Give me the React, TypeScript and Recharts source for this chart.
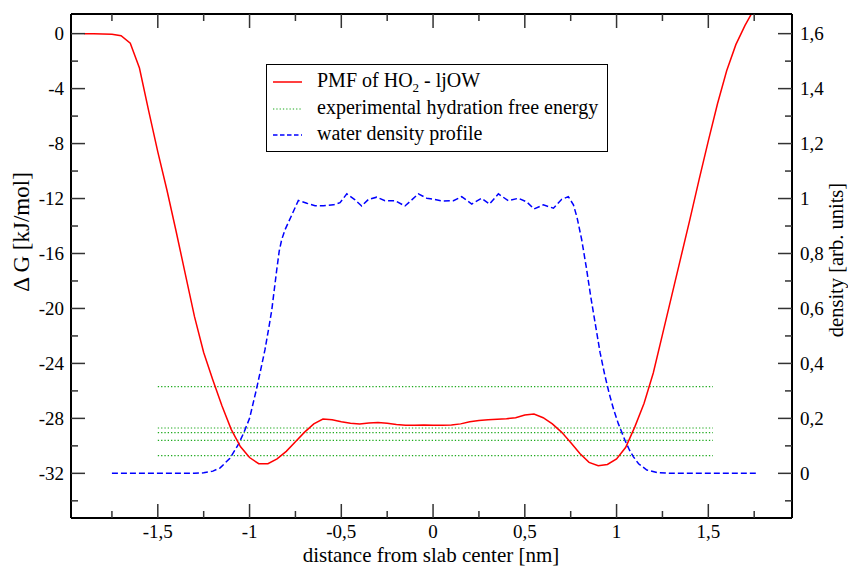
import { ComposedChart, Legend, Line, XAxis, YAxis } from "recharts";

// PMF of HO2 (kJ/mol) vs distance from slab center (nm)
const PMF_X = [
  -1.9, -1.85, -1.8, -1.75, -1.7, -1.65, -1.6, -1.55, -1.5, -1.45, -1.4, -1.35, -1.3, -1.25,
  -1.2, -1.15, -1.1, -1.05, -1.0, -0.95, -0.9, -0.85, -0.8, -0.75, -0.7, -0.65, -0.6, -0.55,
  -0.5, -0.45, -0.4, -0.35, -0.3, -0.25, -0.2, -0.15, -0.1, -0.05, 0, 0.05, 0.1, 0.15, 0.2,
  0.25, 0.3, 0.35, 0.4, 0.45, 0.5, 0.55, 0.6, 0.65, 0.7, 0.75, 0.8, 0.85, 0.9, 0.95, 1.0,
  1.05, 1.1, 1.15, 1.2, 1.25, 1.3, 1.35, 1.4, 1.45, 1.5, 1.55, 1.6, 1.65, 1.7, 1.75,
];
const PMF_G = [
  0.0, 0.0, -0.02, -0.05, -0.15, -0.7, -2.5, -5.6, -8.6, -11.4, -14.4, -17.5, -20.6, -23.2,
  -25.2, -27.1, -28.8, -30.05, -30.85, -31.3, -31.3, -30.95, -30.4, -29.7, -29.0, -28.4,
  -28.05, -28.1, -28.25, -28.36, -28.4, -28.33, -28.3, -28.35, -28.45, -28.5, -28.5, -28.48,
  -28.5, -28.5, -28.48, -28.4, -28.25, -28.15, -28.1, -28.07, -28.03, -27.95, -27.75, -27.68,
  -27.95, -28.4, -29.0, -29.75, -30.55, -31.2, -31.45, -31.35, -30.95, -30.1, -28.6, -26.9,
  -24.7, -21.9, -19.1, -16.3, -13.5, -10.6, -7.8, -5.1, -2.7, -0.8, 0.6, 1.8,
];

// water density profile (arb. units)
const DENS_X = [
  -1.75, -1.3, -1.25, -1.2, -1.16, -1.107, -1.061, -1.03, -1.0, -0.961, -0.935, -0.916,
  -0.895, -0.879, -0.852, -0.838, -0.825, -0.807, -0.77, -0.734, -0.688, -0.643, -0.598,
  -0.543, -0.507, -0.47, -0.425, -0.389, -0.352, -0.307, -0.262, -0.207, -0.153, -0.116,
  -0.08, -0.034, 0.002, 0.047, 0.111, 0.156, 0.211, 0.265, 0.307, 0.356, 0.41, 0.465, 0.51,
  0.55, 0.601, 0.656, 0.701, 0.737, 0.765, 0.785, 0.81, 0.835, 0.86, 0.885, 0.91, 0.935,
  0.96, 0.985, 1.01, 1.046, 1.07, 1.092, 1.12, 1.165, 1.22, 1.3, 1.77,
];
const DENS_D = [
  0, 0, 0.002, 0.008, 0.02, 0.055, 0.105, 0.15, 0.2, 0.31, 0.39, 0.45, 0.53, 0.594, 0.74,
  0.81, 0.85, 0.886, 0.94, 0.993, 0.983, 0.974, 0.974, 0.977, 0.985, 1.017, 0.995, 0.973,
  0.997, 1.005, 0.992, 0.992, 0.973, 0.995, 1.017, 1.001, 0.998, 0.991, 0.992, 1.007, 0.98,
  1.001, 0.98, 1.017, 0.992, 1.001, 0.988, 0.962, 0.977, 0.965, 0.997, 1.007, 0.977, 0.93,
  0.85, 0.75, 0.64, 0.54, 0.44, 0.36, 0.29, 0.23, 0.18, 0.12, 0.085, 0.06, 0.035, 0.012,
  0.003, 0, 0,
];

// experimental hydration free energies (kJ/mol)
const EXP_LEVELS = [-25.69, -28.7, -29.04, -29.6, -30.71];
const EXP_X = [-1.5, 1.525];

const X_TICKS = [-1.75, -1.5, -1.25, -1, -0.75, -0.5, -0.25, 0, 0.25, 0.5, 0.75, 1, 1.25, 1.5, 1.75];
const X_MAJOR = [-1.5, -1, -0.5, 0, 0.5, 1, 1.5];
const G_TICKS = [0, -2, -4, -6, -8, -10, -12, -14, -16, -18, -20, -22, -24, -26, -28, -30, -32, -34];
const G_MAJOR = [0, -4, -8, -12, -16, -20, -24, -28, -32];
const D_TICKS = [-0.1, 0, 0.1, 0.2, 0.3, 0.4, 0.5, 0.6, 0.7, 0.8, 0.9, 1, 1.1, 1.2, 1.3, 1.4, 1.5, 1.6];
const D_MAJOR = [0, 0.2, 0.4, 0.6, 0.8, 1, 1.2, 1.4, 1.6];

const pmfData = PMF_X.map((x, i) => ({ x, y: PMF_G[i] }));
const densData = DENS_X.map((x, i) => ({ x, y: DENS_D[i] }));
const expData = EXP_LEVELS.map((g) => EXP_X.map((x) => ({ x, y: g })));

const FONT = '"Liberation Serif", "Times New Roman", serif';
const TICK_COLOR = "#333";
const TICK_FONT = 19;
const fmt = (v: number) => String(v).replace(".", ",");
const isMajor = (list: number[], v: number) => list.some((m) => Math.abs(m - v) < 1e-9);

function BottomTick(props: any) {
  const { x, y, payload } = props;
  const major = isMajor(X_MAJOR, payload.value);
  return (
    <g>
      <line x1={x} x2={x} y1={y} y2={y - (major ? 14 : 7)} stroke={TICK_COLOR} strokeWidth={1.5} />
      {major && (
        <text x={x} y={y + 20} textAnchor="middle" fontSize={TICK_FONT} fontFamily={FONT} fill="#000">
          {fmt(payload.value)}
        </text>
      )}
    </g>
  );
}

function TopTick(props: any) {
  const { x, y, payload } = props;
  const major = isMajor(X_MAJOR, payload.value);
  return <line x1={x} x2={x} y1={y} y2={y + (major ? 14 : 7)} stroke={TICK_COLOR} strokeWidth={1.5} />;
}

function LeftTick(props: any) {
  const { x, y, payload } = props;
  const major = isMajor(G_MAJOR, payload.value);
  return (
    <g>
      <line x1={x} x2={x + (major ? 14 : 7)} y1={y} y2={y} stroke={TICK_COLOR} strokeWidth={1.5} />
      {major && (
        <text x={x - 7} y={y} dy="0.35em" textAnchor="end" fontSize={TICK_FONT} fontFamily={FONT} fill="#000">
          {fmt(payload.value)}
        </text>
      )}
    </g>
  );
}

function RightTick(props: any) {
  const { x, y, payload } = props;
  const major = isMajor(D_MAJOR, payload.value);
  return (
    <g>
      <line x1={x} x2={x - (major ? 14 : 7)} y1={y} y2={y} stroke={TICK_COLOR} strokeWidth={1.5} />
      {major && (
        <text x={x + 8} y={y} dy="0.35em" textAnchor="start" fontSize={TICK_FONT} fontFamily={FONT} fill="#000">
          {fmt(payload.value)}
        </text>
      )}
    </g>
  );
}

function LegendBox() {
  const rowY = [17, 44, 70];
  return (
    <div style={{ width: 342, height: 88, border: "1.5px solid #000", boxSizing: "border-box", background: "#fff" }}>
      <svg width={340} height={86} style={{ display: "block" }}>
        <line x1={6} x2={35} y1={rowY[0]} y2={rowY[0]} stroke="#ff0000" strokeWidth={1.5} />
        <text x={50} y={rowY[0] + 5} fontSize={20} fontFamily={FONT}>
          PMF of HO<tspan fontSize={13} dy={5}>2</tspan>
          <tspan dy={-5}> - ljOW</tspan>
        </text>
        <line x1={6} x2={35} y1={rowY[1]} y2={rowY[1]} stroke="#1faa1f" strokeWidth={1.2} strokeDasharray="1.3 2" />
        <text x={50} y={rowY[1] + 5} fontSize={20} fontFamily={FONT}>
          experimental hydration free energy
        </text>
        <line x1={6} x2={35} y1={rowY[2]} y2={rowY[2]} stroke="#0000ff" strokeWidth={1.5} strokeDasharray="4.5 2.5" />
        <text x={50} y={rowY[2] + 5} fontSize={20} fontFamily={FONT}>
          water density profile
        </text>
      </svg>
    </div>
  );
}

export default function App() {
  return (
    <div style={{ position: "absolute", left: 0, top: 0, width: 848, height: 566, background: "#fff", overflow: "hidden" }}>
      <ComposedChart width={848} height={566} margin={{ top: 0, right: 0, bottom: 0, left: 0 }}>
        <XAxis
          xAxisId="bottom"
          type="number"
          dataKey="x"
          domain={[-1.973, 1.956]}
          allowDataOverflow
          ticks={X_TICKS}
          interval={0}
          height={48}
          tickSize={0}
          tickMargin={0}
          tick={<BottomTick />}
          axisLine={{ stroke: "#000", strokeWidth: 2 }}
        />
        <XAxis
          xAxisId="top"
          orientation="top"
          type="number"
          dataKey="x"
          domain={[-1.973, 1.956]}
          allowDataOverflow
          ticks={X_TICKS}
          interval={0}
          height={14}
          tickSize={0}
          tickMargin={0}
          tick={<TopTick />}
          axisLine={{ stroke: "#000", strokeWidth: 2 }}
        />
        <YAxis
          yAxisId="left"
          type="number"
          domain={[-35.25, 1.43]}
          allowDataOverflow
          ticks={G_TICKS}
          interval={0}
          width={71}
          tickSize={0}
          tickMargin={0}
          tick={<LeftTick />}
          axisLine={{ stroke: "#000", strokeWidth: 2 }}
        />
        <YAxis
          yAxisId="right"
          orientation="right"
          type="number"
          domain={[-0.1625, 1.6715]}
          allowDataOverflow
          ticks={D_TICKS}
          interval={0}
          width={56}
          tickSize={0}
          tickMargin={0}
          tick={<RightTick />}
          axisLine={{ stroke: "#000", strokeWidth: 2 }}
        />
        <Legend
          verticalAlign="middle"
          align="center"
          content={() => <LegendBox />}
          wrapperStyle={{ position: "absolute", left: 266, top: 64, width: 342, height: 88 }}
        />
        {expData.map((d, i) => (
          <Line
            key={`exp-${i}`}
            data={d}
            xAxisId="bottom"
            yAxisId="left"
            dataKey="y"
            stroke="#1faa1f"
            strokeWidth={1.2}
            strokeDasharray="1.3 2"
            dot={false}
            activeDot={false}
            legendType="none"
            isAnimationActive={false}
          />
        ))}
        <Line
          data={densData}
          xAxisId="bottom"
          yAxisId="right"
          dataKey="y"
          type="linear"
          stroke="#0000ff"
          strokeWidth={1.5}
          strokeDasharray="6 3"
          dot={false}
          activeDot={false}
          isAnimationActive={false}
        />
        <Line
          data={pmfData}
          xAxisId="bottom"
          yAxisId="left"
          dataKey="y"
          type="linear"
          stroke="#ff0000"
          strokeWidth={1.5}
          dot={false}
          activeDot={false}
          isAnimationActive={false}
        />
      </ComposedChart>
      <svg width={848} height={566} style={{ position: "absolute", left: 0, top: 0, pointerEvents: "none" }}>
        <text
          x={29}
          y={232}
          transform="rotate(-90 29 232)"
          textAnchor="middle"
          fontSize={23}
          fontFamily={FONT}
        >
          Δ G [kJ/mol]
        </text>
        <text
          x={843}
          y={260}
          transform="rotate(-90 843 260)"
          textAnchor="middle"
          fontSize={20.5}
          fontFamily={FONT}
        >
          density [arb. units]
        </text>
        <text x={431} y={561.5} textAnchor="middle" fontSize={21} fontFamily={FONT}>
          distance from slab center [nm]
        </text>
      </svg>
    </div>
  );
}
